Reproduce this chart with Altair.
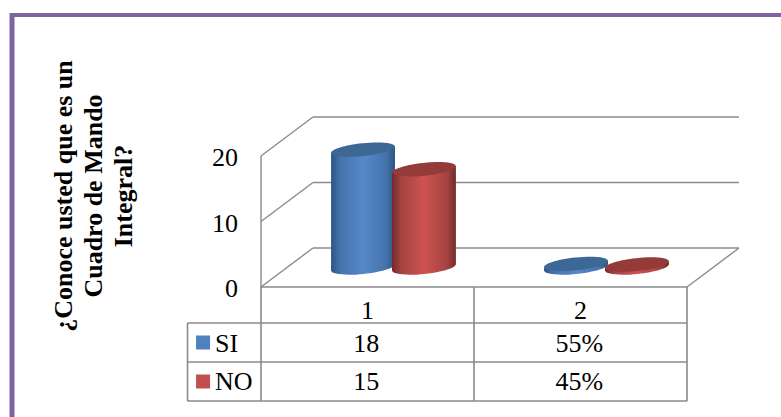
import altair as alt
import pandas as pd

# Survey answers; the second category holds the shares as fractions
categories = [1, 2]
series_names = ["SI", "NO"]
si_values = [18, 0.55]
no_values = [15, 0.45]
si_labels = ["18", "55%"]
no_labels = ["15", "45%"]
value_ticks = [0, 10, 20]
title_text = "¿Conoce usted que es un\nCuadro de Mando\nIntegral?"

# Oblique projection of the 3D frame, in axis units per unit of depth
DEPTH_X = 0.244
DEPTH_Y = 5.95
BAR_DEPTH = 0.5
BAR_HALF = 0.15
BAR_SHIFT = 0.143
TILT = 0.5  # vertical lean of a cylinder's ends, in value units
GREY = "#8a8a8a"
SERIF = "Liberation Serif"

X = alt.Scale(domain=[0.5, 2.5], range=[261, 687])
Y = alt.Scale(domain=[0, 20], range=[287, 156])
ROW = alt.Scale(domain=[0, 1, 2, 3], range=[287, 323, 362, 401])


def gradient(edge, shade, mid):
    return alt.Gradient(
        gradient="linear", x1=0, x2=1, y1=0, y2=0,
        stops=[
            alt.GradientStop(color=edge, offset=0),
            alt.GradientStop(color=shade, offset=0.14),
            alt.GradientStop(color=mid, offset=0.5),
            alt.GradientStop(color=shade, offset=0.86),
            alt.GradientStop(color=edge, offset=1),
        ],
    )


ELLIPSE = "M-1,0A1,0.2 0 1 1 1,0A1,0.2 0 1 1 -1,0Z"


def ellipse(fill):
    return alt.Chart().mark_point(
        shape=ELLIPSE, size=64 ** 2, filled=True, fill=fill,
        opacity=1, strokeWidth=0, angle=354,
    )


def xq(field):
    return alt.X(field, type="quantitative", scale=X, axis=None)


def yq(field):
    return alt.Y(field, type="quantitative", scale=Y, axis=None)


def yrow(field):
    return alt.Y(field, type="quantitative", scale=ROW, axis=None)


def cylinders(values, sign, edge, shade, mid, top):
    rows = []
    sides = []
    for cat, val in zip(categories, values):
        cx = cat + BAR_DEPTH * DEPTH_X + sign * BAR_SHIFT
        base = BAR_DEPTH * DEPTH_Y
        rows.append({"cx": cx, "base": base, "top": val + base})
        # Side wall between the two leaning ends
        for side in (-1, 1):
            sides.append({"cat": cat, "x": cx + side * BAR_HALF,
                          "y": val + base + side * TILT, "y2": base + side * TILT})
    data = pd.DataFrame(rows)
    body = gradient(edge, shade, mid)
    return [
        ellipse(body).encode(x=xq("cx"), y=yq("base")).properties(data=data),
        alt.Chart(pd.DataFrame(sides)).mark_area(fill=body, opacity=1).encode(
            x=xq("x"), y=yq("y"), y2="y2", detail="cat:N"),
        ellipse(top).encode(x=xq("cx"), y=yq("top")).properties(data=data),
    ]


# Walls and floor of the 3D frame
walls = pd.DataFrame(
    [{"x": 0.5, "x2": 0.5 + DEPTH_X, "y": v, "y2": v + DEPTH_Y} for v in value_ticks]
    + [{"x": 0.5 + DEPTH_X, "x2": 2.5 + DEPTH_X, "y": v + DEPTH_Y, "y2": v + DEPTH_Y} for v in value_ticks]
    + [{"x": 0.5, "x2": 0.5, "y": 0, "y2": 20},
       {"x": 2.5, "x2": 2.5 + DEPTH_X, "y": 0, "y2": DEPTH_Y}]
)
wall_layer = alt.Chart(walls).mark_rule(color=GREY, strokeWidth=1.4).encode(
    x=xq("x"), x2="x2", y=yq("y"), y2="y2")

# Data table grid
LEFT = 0.155
grid = pd.DataFrame(
    [{"x": 0.5, "x2": 2.5, "y": 0, "y2": 0}]
    + [{"x": LEFT, "x2": 2.5, "y": r, "y2": r} for r in (1, 2, 3)]
    + [{"x": LEFT, "x2": LEFT, "y": 1, "y2": 3}]
    + [{"x": c, "x2": c, "y": 0, "y2": 3} for c in (0.5, 1.5, 2.5)]
)
grid_layer = alt.Chart(grid).mark_rule(color=GREY, strokeWidth=1.6).encode(
    x=xq("x"), x2="x2", y=yrow("y"), y2="y2")

cells = pd.DataFrame(
    [{"x": c, "y": 0.68, "t": str(c)} for c in categories]
    + [{"x": c - 0.006, "y": 1.53, "t": t} for c, t in zip(categories, si_labels)]
    + [{"x": c - 0.006, "y": 2.5, "t": t} for c, t in zip(categories, no_labels)]
)
cell_layer = alt.Chart(cells).mark_text(
    font=SERIF, fontSize=26, color="#000000", baseline="middle", align="center"
).encode(x=xq("x"), y=yrow("y"), text="t:N")

names = pd.DataFrame({"x": [0.284, 0.284], "y": [1.53, 2.5], "t": series_names})
name_layer = alt.Chart(names).mark_text(
    font=SERIF, fontSize=26, color="#000000", baseline="middle", align="left"
).encode(x=xq("x"), y=yrow("y"), text="t:N")

swatches = pd.DataFrame({"x": [0.228, 0.228], "y": [1.5, 2.5], "t": series_names})
swatch_layer = alt.Chart(swatches).mark_square(size=196, opacity=1).encode(
    x=xq("x"), y=yrow("y"),
    color=alt.Color("t:N", legend=None,
                    scale=alt.Scale(domain=series_names, range=["#4f81bd", "#c0504d"])),
)

ticks = pd.DataFrame({"x": [0.392] * 3, "y": value_ticks, "t": [str(v) for v in value_ticks]})
tick_layer = alt.Chart(ticks).mark_text(
    font=SERIF, fontSize=26, color="#000000", baseline="middle", align="right", dy=2
).encode(x=xq("x"), y=yq("y"), text="t:N")

title_layer = alt.Chart(pd.DataFrame({"t": [title_text]})).mark_text(
    font=SERIF, fontSize=26, fontWeight="bold", color="#000000", angle=270,
    align="center", baseline="middle", lineBreak="\n", lineHeight=30,
).encode(x=alt.value(64), y=alt.value(196), text="t:N")

# Purple outline along the top and left edges
outline = [
    alt.Chart(pd.DataFrame({"k": [0]})).mark_rule(color="#8064a2", strokeWidth=5).encode(
        x=alt.value(12), y=alt.value(13), y2=alt.value(417)),
    alt.Chart(pd.DataFrame({"k": [0]})).mark_rule(color="#8064a2", strokeWidth=4).encode(
        x=alt.value(10), x2=alt.value(781), y=alt.value(15)),
]

layers = (
    [wall_layer]
    + cylinders(si_values, -1, "#2f5482", "#4473ad", "#5688c8", "#3d6795")
    + cylinders(no_values, 1, "#702b2a", "#a54341", "#cf5350", "#943a38")
    + [grid_layer, cell_layer, name_layer, swatch_layer, tick_layer, title_layer]
    + outline
)

chart = alt.layer(*layers).resolve_scale(y="independent", color="independent").properties(
    width=781, height=417, padding=0,
    autosize=alt.AutoSizeParams(type="none"),
    background="white",
).configure_view(stroke=None)

chart.save("out.html", embed_options={"renderer": "svg", "actions": False})
